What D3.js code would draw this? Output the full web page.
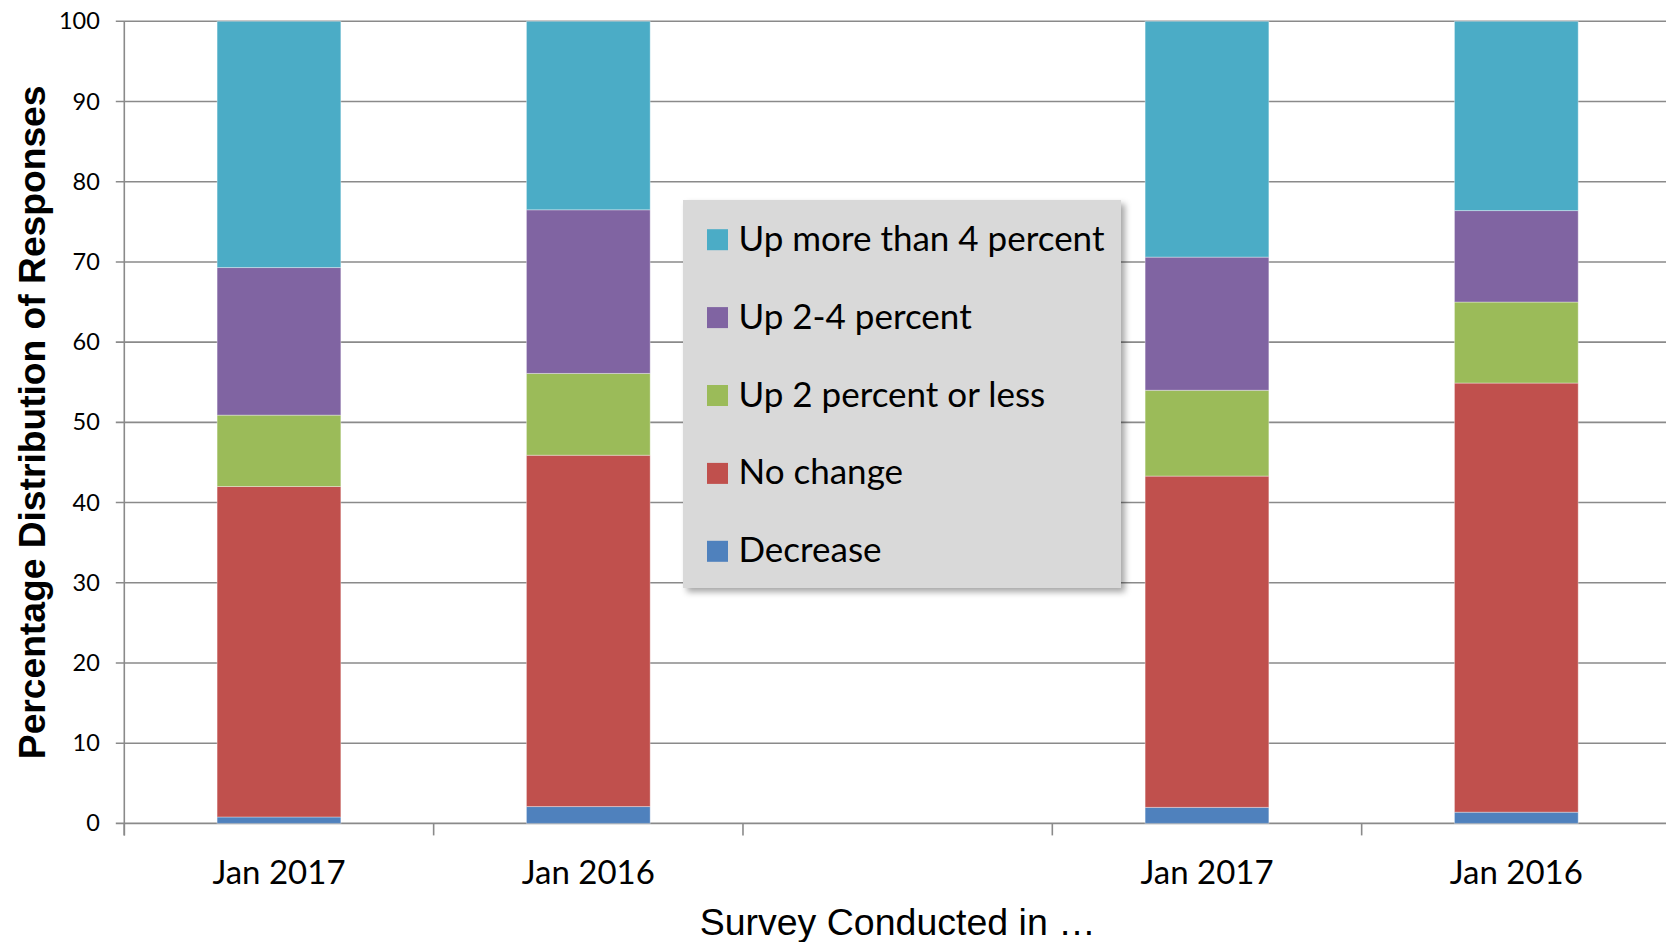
<!DOCTYPE html>
<html>
<head>
<meta charset="utf-8">
<script src="https://cdn.jsdelivr.net/npm/d3@7"></script>
<style>
  body { margin: 0; background: #fff; }
  svg { display: block; }
</style>
</head>
<body>
<div class="container"></div>
<script>
// categories along the x axis (the middle slot is an empty gap)
var categories = ["Jan 2017", "Jan 2016", "", "Jan 2017", "Jan 2016"];

// series, bottom to top of each stack
var series_names = ["Decrease", "No change", "Up 2 percent or less", "Up 2-4 percent", "Up more than 4 percent"];
var decrease      = [0.8, 2.1, null, 2.0, 1.4];
var no_change     = [41.2, 43.8, null, 41.3, 53.5];
var up_2_or_less  = [8.9, 10.2, null, 10.7, 10.1];
var up_2_4        = [18.4, 20.4, null, 16.6, 11.4];
var up_more_4     = [30.7, 23.5, null, 29.4, 23.6];

var y_ticks = [0, 10, 20, 30, 40, 50, 60, 70, 80, 90, 100];

var colors = {
  "Decrease": "#4f81bd",
  "No change": "#c0504d",
  "Up 2 percent or less": "#9bbb59",
  "Up 2-4 percent": "#8064a2",
  "Up more than 4 percent": "#4bacc6"
};

var W = 1666, H = 942;
var margin = {top: 21.3, left: 124.3},
    plot_right = 1671,
    plot_bottom = 823.4;

var svg = d3.select("div.container").append("svg")
    .attr("width", W)
    .attr("height", H);

var defs = svg.append("defs");
defs.append("filter")
    .attr("id", "shadow")
    .attr("x", "-10%").attr("y", "-10%")
    .attr("width", "125%").attr("height", "125%")
  .append("feDropShadow")
    .attr("dx", 4).attr("dy", 4)
    .attr("stdDeviation", 3)
    .attr("flood-color", "#000")
    .attr("flood-opacity", 0.35);

// scales
var x_scale = d3.scaleBand()
    .domain(d3.range(categories.length))
    .range([margin.left, plot_right])
    .paddingInner(0.6)
    .paddingOuter(0.3);

var y_scale = d3.scaleLinear()
    .domain([0, 100])
    .range([plot_bottom, margin.top]);

// gridlines
svg.append("g")
    .selectAll("line")
    .data(y_ticks)
    .enter().append("line")
    .attr("x1", margin.left - 8.5)
    .attr("x2", W)
    .attr("y1", function(d) { return y_scale(d); })
    .attr("y2", function(d) { return y_scale(d); })
    .attr("stroke", "#8a8a8a")
    .attr("stroke-width", 1.6);

// stacked bars
var rows = categories.map(function(c, i) {
  return {
    idx: i,
    "Decrease": decrease[i],
    "No change": no_change[i],
    "Up 2 percent or less": up_2_or_less[i],
    "Up 2-4 percent": up_2_4[i],
    "Up more than 4 percent": up_more_4[i]
  };
});

var stacked = d3.stack()
    .keys(series_names)
    .value(function(d, key) { return d[key] || 0; })(rows);

svg.append("g")
    .selectAll("g")
    .data(stacked)
    .enter().append("g")
    .attr("fill", function(d) { return colors[d.key]; })
  .selectAll("rect")
    .data(function(d) { return d.filter(function(p) { return p[1] > p[0]; }); })
    .enter().append("rect")
    .attr("x", function(d) { return x_scale(d.data.idx); })
    .attr("width", x_scale.bandwidth())
    .attr("y", function(d) { return y_scale(d[1]); })
    .attr("height", function(d) { return y_scale(d[0]) - y_scale(d[1]); })
    .attr("stroke", "rgba(255,255,255,0.35)")
    .attr("stroke-width", 1);

// y axis (labels only, gridlines drawn above)
var y_axis = svg.append("g")
    .attr("transform", "translate(" + margin.left + ",0)")
    .call(d3.axisLeft(y_scale).tickValues(y_ticks).tickSize(8.5).tickPadding(16));
y_axis.select(".domain").remove();
y_axis.selectAll(".tick line").remove();
y_axis.selectAll("text")
    .attr("font-family", "Lato, sans-serif")
    .attr("font-size", 23.5)
    .attr("fill", "#000");

svg.append("line")
    .attr("x1", margin.left).attr("x2", margin.left)
    .attr("y1", margin.top).attr("y2", plot_bottom + 12)
    .attr("stroke", "#8a8a8a")
    .attr("stroke-width", 1.6);

// x axis: tick marks on category boundaries
var step = x_scale.step();
svg.append("g")
    .selectAll("line")
    .data(d3.range(categories.length + 1))
    .enter().append("line")
    .attr("x1", function(i) { return margin.left + i * step; })
    .attr("x2", function(i) { return margin.left + i * step; })
    .attr("y1", plot_bottom)
    .attr("y2", plot_bottom + 12)
    .attr("stroke", "#8a8a8a")
    .attr("stroke-width", 1.6);

var x_axis = svg.append("g")
    .attr("transform", "translate(0," + plot_bottom + ")")
    .call(d3.axisBottom(x_scale)
      .tickSize(0)
      .tickPadding(37)
      .tickFormat(function(i) { return categories[i]; }));
x_axis.select(".domain").remove();
x_axis.selectAll("text")
    .attr("font-family", "Lato, sans-serif")
    .attr("font-size", 33)
    .attr("fill", "#000");

// axis titles
svg.append("text")
    .attr("transform", "translate(45," + ((margin.top + plot_bottom) / 2) + ") rotate(-90)")
    .attr("text-anchor", "middle")
    .attr("font-family", "'Liberation Sans', Arial, sans-serif")
    .attr("font-weight", "bold")
    .attr("font-size", 37.2)
    .text("Percentage Distribution of Responses");

svg.append("text")
    .attr("x", (margin.left + plot_right) / 2)
    .attr("y", 935)
    .attr("text-anchor", "middle")
    .attr("font-family", "'Liberation Sans', Arial, sans-serif")
    .attr("font-size", 37.5)
    .text("Survey Conducted in \u2026");

// legend
var legend = svg.append("g").attr("transform", "translate(683,200)");
legend.append("rect")
    .attr("width", 438)
    .attr("height", 388)
    .attr("fill", "#d9d9d9")
    .attr("filter", "url(#shadow)");

var legend_items = series_names.slice().reverse();
var item = legend.selectAll("g.item")
    .data(legend_items)
    .enter().append("g")
    .attr("class", "item")
    .attr("transform", function(d, i) { return "translate(0," + (39.7 + i * 77.9) + ")"; });

item.append("rect")
    .attr("x", 24)
    .attr("y", -10.5)
    .attr("width", 21)
    .attr("height", 21)
    .attr("fill", function(d) { return colors[d]; });

item.append("text")
    .attr("x", 55.5)
    .attr("y", 11)
    .attr("font-family", "Lato, sans-serif")
    .attr("font-size", 35)
    .attr("fill", "#000")
    .text(function(d) { return d; });
</script>
</body>
</html>
